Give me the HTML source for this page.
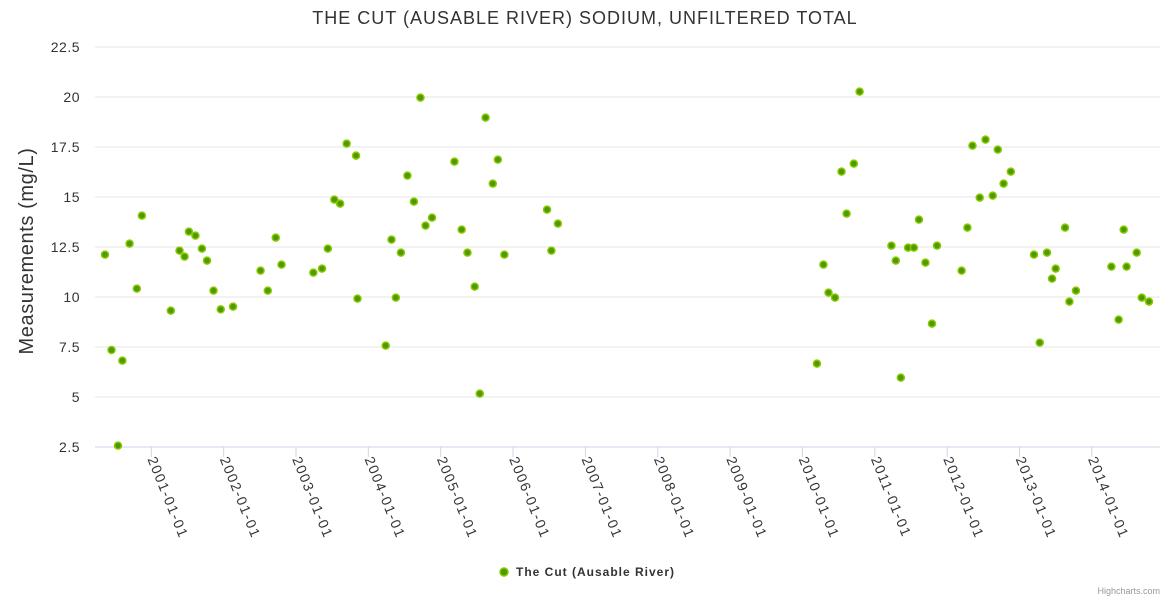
<!DOCTYPE html>
<html><head><meta charset="utf-8"><style>
html,body{margin:0;padding:0;background:#fff;}
svg{display:block;font-family:"Liberation Sans",sans-serif;}
</style></head><body>
<svg id="chart" width="1170" height="600" viewBox="0 0 1170 600">
<rect x="0" y="0" width="1170" height="600" fill="#fff"/>
<text x="585" y="24" text-anchor="middle" font-size="18" letter-spacing="1" fill="#333">THE CUT (AUSABLE RIVER) SODIUM, UNFILTERED TOTAL</text>
<g id="grid"></g>
<g id="yticks"></g>
<text transform="translate(33,251) rotate(-90)" text-anchor="middle" font-size="20" letter-spacing="0.6" fill="#333">Measurements (mg/L)</text>
<line x1="95" y1="447" x2="1160" y2="447" stroke="#ccd6eb" stroke-width="1"/>
<g id="xticks"></g>
<g id="points"></g>
<g>
<circle cx="504" cy="572" r="4" fill="#4c9a00" stroke="#8cc800" stroke-width="1.5"/>
<text x="516" y="576" font-size="12" font-weight="bold" letter-spacing="1" fill="#333">The Cut (Ausable River)</text>
</g>
<text x="1160" y="594" text-anchor="end" font-size="9" fill="#999">Highcharts.com</text>
</svg>
<script>
const yTicks=[2.5,5,7.5,10,12.5,15,17.5,20,22.5];
const xTickYears=[2001,2002,2003,2004,2005,2006,2007,2008,2009,2010,2011,2012,2013,2014];
const dates=[2000.36,2000.45,2000.54,2000.60,2000.70,2000.80,2000.87,2001.27,2001.39,2001.46,2001.52,2001.61,2001.70,2001.77,2001.86,2001.96,2002.13,2002.51,2002.61,2002.72,2002.80,2003.24,2003.36,2003.44,2003.53,2003.61,2003.70,2003.83,2003.85,2004.24,2004.32,2004.38,2004.45,2004.54,2004.63,2004.72,2004.79,2004.88,2005.19,2005.29,2005.37,2005.47,2005.54,2005.62,2005.72,2005.79,2005.88,2006.47,2006.53,2006.62,2010.20,2010.29,2010.36,2010.45,2010.54,2010.61,2010.71,2010.79,2011.23,2011.29,2011.36,2011.46,2011.54,2011.61,2011.70,2011.79,2011.86,2012.20,2012.28,2012.35,2012.45,2012.53,2012.63,2012.70,2012.78,2012.88,2013.20,2013.28,2013.38,2013.45,2013.50,2013.63,2013.69,2013.78,2014.27,2014.37,2014.44,2014.48,2014.62,2014.69,2014.79];
const values=[12.12,7.35,2.57,6.82,12.67,10.42,14.07,9.32,12.32,12.02,13.27,13.07,12.42,11.82,10.32,9.38,9.52,11.32,10.32,12.97,11.62,11.22,11.42,12.42,14.87,14.67,17.67,17.07,9.92,7.57,12.87,9.97,12.22,16.07,14.77,19.97,13.57,13.97,16.77,13.37,12.22,10.52,5.17,18.97,15.67,16.87,12.12,14.37,12.32,13.67,6.67,11.62,10.22,9.97,16.27,14.17,16.67,20.27,12.57,11.82,5.97,12.47,12.47,13.87,11.72,8.67,12.57,11.32,13.47,17.57,14.97,17.87,15.07,17.37,15.67,16.27,12.12,7.72,12.22,10.92,11.42,13.47,9.77,10.32,11.52,8.87,13.37,11.52,12.22,9.97,9.77];
const NS='http://www.w3.org/2000/svg';
function xPos(yr){return 151.3+(yr-2001)*72.35;}
function yPos(v){return 447-(v-2.5)*20;}
const grid=document.getElementById('grid'),yt=document.getElementById('yticks'),xt=document.getElementById('xticks'),pts=document.getElementById('points');
yTicks.forEach(v=>{
  if(v>2.5){const l=document.createElementNS(NS,'line');
  l.setAttribute('x1',95);l.setAttribute('x2',1160);l.setAttribute('y1',yPos(v));l.setAttribute('y2',yPos(v));
  l.setAttribute('stroke','#e6e6e6');
  
  
  grid.appendChild(l);}
  const t=document.createElementNS(NS,'text');
  t.setAttribute('x',80);t.setAttribute('y',yPos(v)+5);t.setAttribute('text-anchor','end');
  t.setAttribute('font-size','14');t.setAttribute('letter-spacing','0.5');t.setAttribute('fill','#333');t.textContent=String(v);
  
  
  yt.appendChild(t);
});
xTickYears.forEach(y=>{
  const x=xPos(y);
  const l=document.createElementNS(NS,'line');
  l.setAttribute('x1',x);l.setAttribute('x2',x);l.setAttribute('y1',447);l.setAttribute('y2',457);
  l.setAttribute('stroke','#ccd6eb');
  
  
  xt.appendChild(l);
  const t=document.createElementNS(NS,'text');
  t.setAttribute('transform','translate('+(x-4)+',459) rotate(68)');
  t.setAttribute('font-size','14');t.setAttribute('letter-spacing','1.5');t.setAttribute('fill','#333');
  t.textContent=y+'-01-01';
  
  
  xt.appendChild(t);
});
dates.forEach((d,i)=>{
  const c=document.createElementNS(NS,'circle');
  c.setAttribute('cx',xPos(d));c.setAttribute('cy',yPos(values[i]));c.setAttribute('r',3.5);
  c.setAttribute('fill','#4c9a00');c.setAttribute('stroke','#8cc800');c.setAttribute('stroke-width','1.5');
  
  
  pts.appendChild(c);
});
</script>
</body></html>
